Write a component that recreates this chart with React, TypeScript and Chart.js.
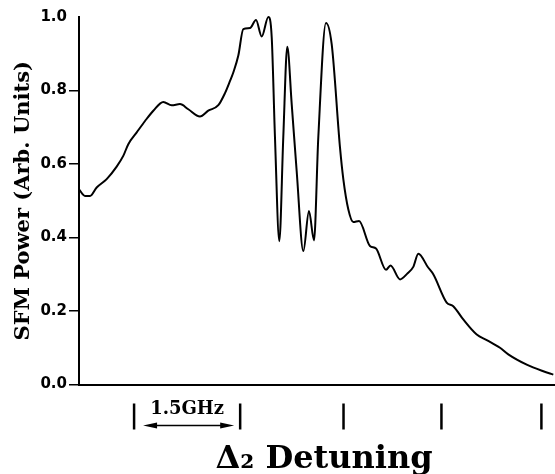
import React, { useEffect, useRef } from "react";
import { Chart, registerables } from "chart.js";

Chart.register(...registerables);

// Detuning (GHz, arbitrary origin at left axis)
const detuning = [
  0.0, 0.088, 0.162, 0.26, 0.407, 0.554, 0.651, 0.725, 0.849, 0.971,
  1.093, 1.24, 1.363, 1.485, 1.607, 1.779, 1.901, 2.049, 2.147, 2.221,
  2.269, 2.343, 2.416, 2.515, 2.603, 2.687, 2.784, 2.834, 2.882, 2.946,
  3.004, 3.063, 3.128, 3.201, 3.299, 3.382, 3.456, 3.519, 3.632, 3.716,
  3.838, 3.887, 3.96, 4.034, 4.118, 4.279, 4.368, 4.515, 4.581, 4.721,
  4.824, 4.916, 4.99, 5.132, 5.21, 5.407, 5.504, 5.651, 5.849, 5.996,
  6.191, 6.313, 6.584, 6.828, 6.975,
];

// SFM power (arb. units)
const sfmPower = [
  0.531, 0.513, 0.513, 0.536, 0.559, 0.593, 0.622, 0.654, 0.686, 0.717,
  0.745, 0.769, 0.76, 0.763, 0.749, 0.729, 0.745, 0.76, 0.793, 0.826,
  0.849, 0.895, 0.967, 0.97, 0.992, 0.947, 1.0, 0.945, 0.672, 0.39,
  0.672, 0.919, 0.763, 0.581, 0.363, 0.472, 0.392, 0.672, 0.984, 0.926,
  0.645, 0.559, 0.477, 0.442, 0.445, 0.377, 0.37, 0.312, 0.324, 0.286,
  0.301, 0.32, 0.356, 0.319, 0.3, 0.223, 0.213, 0.177, 0.136, 0.121,
  0.1, 0.082, 0.054, 0.036, 0.027,
];

// Marker ticks drawn below the x axis (GHz)
const markerTicks = [0.81, 2.37, 3.89, 5.33, 6.8];
const yTicks = [0.0, 0.2, 0.4, 0.6, 0.8, 1.0];
const scaleBarLabel = "1.5GHz";
const xTitle = "Δ₂ Detuning";
const yTitle = "SFM Power (Arb. Units)";

const markerPlugin = {
  id: "markers",
  afterDraw(chart: any) {
    const { ctx, chartArea, scales } = chart;
    const xs = scales.x;
    const base = chartArea.bottom;
    ctx.save();
    ctx.strokeStyle = "#000";
    ctx.fillStyle = "#000";
    ctx.lineWidth = 2.5;
    const px = markerTicks.map((v) => xs.getPixelForValue(v));
    px.forEach((p) => {
      ctx.beginPath();
      ctx.moveTo(p, base + 19);
      ctx.lineTo(p, base + 45);
      ctx.stroke();
    });
    // scale bar arrow between first two markers
    const a = px[0] + 9;
    const b = px[1] - 6;
    const ay = base + 41;
    ctx.lineWidth = 1.6;
    ctx.beginPath();
    ctx.moveTo(a + 8, ay);
    ctx.lineTo(b - 8, ay);
    ctx.stroke();
    ctx.beginPath();
    ctx.moveTo(a, ay);
    ctx.lineTo(a + 14, ay - 3);
    ctx.lineTo(a + 14, ay + 3);
    ctx.closePath();
    ctx.fill();
    ctx.beginPath();
    ctx.moveTo(b, ay);
    ctx.lineTo(b - 14, ay - 3);
    ctx.lineTo(b - 14, ay + 3);
    ctx.closePath();
    ctx.fill();
    ctx.font = "bold 18px 'DejaVu Serif'";
    ctx.textAlign = "center";
    ctx.textBaseline = "alphabetic";
    ctx.fillText(scaleBarLabel, (px[0] + px[1]) / 2, base + 29);
    // axis title
    ctx.font = "bold 32px 'DejaVu Serif'";
    ctx.fillText(xTitle, (chartArea.left + chartArea.right) / 2 + 7, base + 83);
    ctx.restore();
  },
};

export default function App() {
  const ref = useRef<HTMLCanvasElement>(null);
  useEffect(() => {
    if (!ref.current) return;
    const chart = new Chart(ref.current, {
      type: "line",
      data: {
        datasets: [
          {
            data: detuning.map((x, i) => ({ x, y: sfmPower[i] })),
            borderColor: "#000",
            borderWidth: 2,
            pointRadius: 0,
            cubicInterpolationMode: "monotone",
            fill: false,
            clip: false as any,
          },
        ],
      },
      options: {
        animation: false,
        responsive: false,
        layout: { padding: { top: 17, right: 0, left: 0, bottom: 0 } },
        plugins: { legend: { display: false }, tooltip: { enabled: false } },
        scales: {
          x: {
            type: "linear",
            min: 0,
            max: 7,
            ticks: { display: false },
            grid: { display: false },
            border: { display: true, color: "#000", width: 2 },
            afterFit(scale: any) {
              scale.height = 89.5;
            },
          },
          y: {
            type: "linear",
            min: 0,
            max: 1,
            afterBuildTicks(scale: any) {
              scale.ticks = yTicks.map((v) => ({ value: v }));
            },
            ticks: {
              color: "#000",
              padding: 2,
              font: { family: "'DejaVu Sans'", size: 15, weight: "bold" },
              callback: (v: any) => Number(v).toFixed(1),
            },
            grid: {
              drawOnChartArea: false,
              drawTicks: true,
              tickLength: 10,
              lineWidth: 1.5,
              color: (c: any) => (c.tick && c.tick.value === 1 ? "rgba(0,0,0,0)" : "#000"),
            },
            border: { display: true, color: "#000", width: 2 },
            title: {
              display: true,
              text: yTitle,
              color: "#000",
              font: { family: "'DejaVu Serif'", size: 21, weight: "bold", lineHeight: 1.2 },
              padding: { top: 11, bottom: 0 },
            },
            afterFit(scale: any) {
              scale.width = 79;
            },
          },
        },
      },
      plugins: [markerPlugin],
    });
    return () => chart.destroy();
  }, []);
  return (
    <div style={{ position: "fixed", left: 0, top: 0, width: 555, height: 474, background: "#fff" }}>
      <canvas ref={ref} width={555} height={474} style={{ display: "block" }} />
    </div>
  );
}
